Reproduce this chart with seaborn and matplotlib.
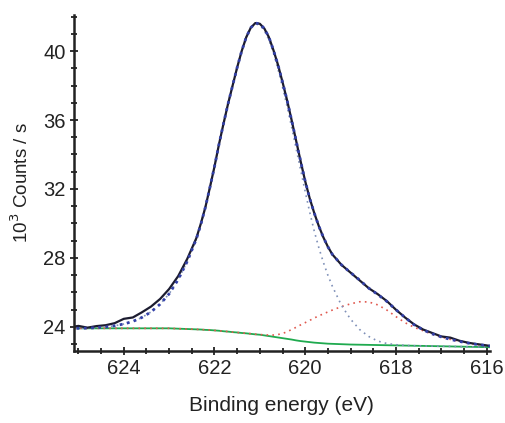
import numpy as np
import pandas as pd
import matplotlib
matplotlib.use("Agg")
import matplotlib.pyplot as plt
import seaborn as sns
from matplotlib.ticker import MultipleLocator

# Binding energy grid (eV)
energy = [625.1, 625.0, 624.8, 624.6, 624.4, 624.2, 624.0, 623.8, 623.6, 623.4,
          623.2, 623.0, 622.8, 622.6,
          622.4, 622.3, 622.2, 622.1, 622.0, 621.9, 621.8, 621.7, 621.6, 621.5,
          621.4, 621.3, 621.2, 621.1, 621.0, 620.9, 620.8, 620.7, 620.6, 620.5,
          620.4, 620.3, 620.2, 620.1, 620.0, 619.9, 619.8, 619.7, 619.6, 619.5,
          619.4,
          619.2, 619.0, 618.8, 618.6, 618.4, 618.2, 618.0, 617.8, 617.6, 617.4,
          617.2, 617.0, 616.8, 616.6, 616.4, 616.2, 616.0, 615.9]

# measured spectrum (10^3 counts/s)
measured = [24.02, 24.06, 23.96, 24.05, 24.10, 24.22, 24.47, 24.55, 24.85, 25.18,
            25.62, 26.20, 26.95, 27.95,
            29.15, 30.00, 30.95, 32.10, 33.30, 34.60, 35.80, 36.95, 38.00, 39.05,
            40.00, 40.80, 41.35, 41.62, 41.58, 41.30, 40.80, 40.05, 39.20, 38.20,
            37.15, 36.00, 34.80, 33.60, 32.45, 31.45, 30.60, 29.85, 29.20, 28.65,
            28.20,
            27.60, 27.15, 26.70, 26.25, 25.90, 25.50, 25.00, 24.55, 24.15, 23.85,
            23.65, 23.45, 23.38, 23.20, 23.08, 23.00, 22.93, 22.88]

# total fit envelope
fit = [23.92, 23.92, 23.93, 23.96, 24.00, 24.07, 24.17, 24.32, 24.55, 24.87,
       25.32, 25.92, 26.75, 27.80,
       29.10, 29.95, 30.95, 32.10, 33.30, 34.60, 35.80, 36.95, 38.00, 39.05,
       40.00, 40.80, 41.35, 41.62, 41.58, 41.30, 40.80, 40.05, 39.20, 38.20,
       37.15, 36.00, 34.80, 33.60, 32.45, 31.45, 30.60, 29.85, 29.20, 28.65,
       28.20,
       27.60, 27.15, 26.72, 26.25, 25.88, 25.48, 25.00, 24.55, 24.13, 23.83,
       23.60, 23.42, 23.28, 23.16, 23.06, 22.98, 22.92, 22.89]

# main component (on top of background)
peak_main = [23.92, 23.92, 23.93, 23.96, 24.00, 24.07, 24.17, 24.32, 24.55, 24.87,
             25.32, 25.92, 26.75, 27.80,
             29.10, 29.95, 30.95, 32.10, 33.30, 34.60, 35.80, 36.95, 38.00, 39.05,
             40.00, 40.80, 41.33, 41.58, 41.50, 41.18, 40.65, 39.88, 38.95, 37.90,
             36.80, 35.60, 34.35, 33.10, 31.85, 30.65, 29.55, 28.60, 27.75, 27.00,
             26.35,
             25.25, 24.45, 23.85, 23.45, 23.18, 23.04, 22.97, 22.93, 22.91, 22.90,
             22.89, 22.88, 22.87, 22.86, 22.85, 22.84, 22.83, 22.82]

# satellite component (on top of background)
peak_sat = [23.92, 23.92, 23.92, 23.92, 23.92, 23.92, 23.92, 23.92, 23.92, 23.92,
            23.92, 23.92, 23.90, 23.88,
            23.86, 23.85, 23.83, 23.82, 23.80, 23.78, 23.75, 23.73, 23.70, 23.68,
            23.65, 23.63, 23.61, 23.58, 23.56, 23.54, 23.53, 23.53, 23.56, 23.62,
            23.72, 23.85, 23.98, 24.12, 24.25, 24.38, 24.52, 24.64, 24.76, 24.87,
            24.98,
            25.18, 25.34, 25.46, 25.45, 25.28, 24.98, 24.60, 24.25, 23.98, 23.78,
            23.58, 23.42, 23.28, 23.16, 23.06, 22.98, 22.92, 22.89]

# Shirley-type background
background = [23.92, 23.92, 23.92, 23.92, 23.92, 23.92, 23.92, 23.92, 23.92, 23.92,
              23.92, 23.92, 23.90, 23.88,
              23.86, 23.85, 23.83, 23.82, 23.80, 23.78, 23.75, 23.73, 23.70, 23.68,
              23.65, 23.63, 23.60, 23.57, 23.55, 23.51, 23.47, 23.43, 23.39, 23.35,
              23.31, 23.27, 23.22, 23.18, 23.15, 23.12, 23.09, 23.07, 23.05, 23.03,
              23.02,
              23.00, 22.98, 22.97, 22.96, 22.95, 22.94, 22.93, 22.92, 22.91, 22.90,
              22.89, 22.88, 22.87, 22.86, 22.85, 22.84, 22.83, 22.82]

df = pd.DataFrame({"energy": energy, "measured": measured, "fit": fit,
                   "peak_main": peak_main, "peak_sat": peak_sat,
                   "background": background})

sns.set_style("ticks")
plt.rcParams["font.family"] = ["Liberation Sans", "DejaVu Sans"]

fig = plt.figure(figsize=(5.06, 4.23), dpi=100)
ax = fig.add_axes([0.146, 0.170, 0.822, 0.795])

sns.lineplot(data=df, x="energy", y="background", ax=ax, color="#1faa4f", lw=1.3)
sns.lineplot(data=df, x="energy", y="peak_sat", ax=ax, color="#e0584e", lw=1.2,
             linestyle=(0, (1, 2.5)))
sns.lineplot(data=df, x="energy", y="peak_main", ax=ax, color="#7f90b8", lw=1.2,
             linestyle=(0, (1, 2.5)))
sns.lineplot(data=df, x="energy", y="measured", ax=ax, color="#1c1c30", lw=1.6)
sns.lineplot(data=df, x="energy", y="fit", ax=ax, color="#3340a8", lw=2.0,
             linestyle=(0, (1, 1.6)))

ax.set_xlim(625.1, 615.93)
ax.set_ylim(22.6, 42.1)
ax.xaxis.set_major_locator(MultipleLocator(2))
ax.xaxis.set_minor_locator(MultipleLocator(0.5))
ax.yaxis.set_major_locator(MultipleLocator(4))
ax.yaxis.set_minor_locator(MultipleLocator(1))
ax.tick_params(which="both", direction="inout", width=1.3, color="#222222",
               labelsize=14.5, labelcolor="#222222")
ax.tick_params(which="major", length=6, pad=3)
ax.tick_params(which="minor", length=5)

sns.despine(ax=ax)
for s in ["left", "bottom"]:
    ax.spines[s].set_linewidth(1.8)
    ax.spines[s].set_color("#222222")

ax.set_xlabel("Binding energy (eV)", fontsize=15, color="#222222", labelpad=13)
ax.set_ylabel("10$^3$ Counts / s", fontsize=13.5, color="#222222", labelpad=8)

fig.savefig("out.png", dpi=100)
